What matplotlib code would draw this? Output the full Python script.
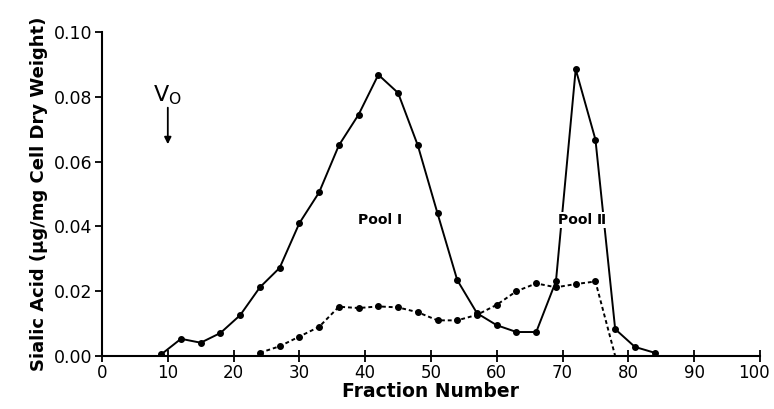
import matplotlib
matplotlib.use("Agg")
import matplotlib.pyplot as plt
from matplotlib.transforms import ScaledTranslation

# fractions sampled every 3 tubes
pool_fractions = [9, 12, 15, 18, 21, 24, 27, 30, 33, 36, 39, 42, 45, 48, 51,
                  54, 57, 60, 63, 66, 69, 72, 75, 78, 81, 84]
pool_sialic = [0.0005, 0.0053, 0.0041, 0.0071, 0.0126, 0.0212, 0.0272, 0.0410,
               0.0505, 0.0650, 0.0745, 0.0868, 0.0812, 0.0650, 0.0440, 0.0234,
               0.0132, 0.0095, 0.0074, 0.0074, 0.0231, 0.0885, 0.0668, 0.0083,
               0.0028, 0.0010]

dash_fractions = [24, 27, 30, 33, 36, 39, 42, 45, 48, 51, 54, 57, 60, 63,
                  66, 69, 72, 75]
dash_sialic = [0.0010, 0.0030, 0.0060, 0.0090, 0.0152, 0.0148, 0.0153, 0.0150,
               0.0135, 0.0110, 0.0110, 0.0127, 0.0158, 0.0200, 0.0224, 0.0212,
               0.0222, 0.0230]
# dashed trace runs down to the baseline after the last point
dash_end = [78, 0.0]

plt.rcParams["font.family"] = ["DejaVu Sans"]

fig = plt.figure(figsize=(7.74, 4.09), dpi=100)
ax = fig.add_axes([0.1318, 0.1296, 0.850, 0.7922])

ax.plot(pool_fractions, pool_sialic, color="black", lw=1.4, marker="o",
        markersize=4, zorder=3)
ax.plot(dash_fractions + [dash_end[0]], dash_sialic + [dash_end[1]],
        color="black", lw=1.4, ls=(0, (2, 1.5)), zorder=2)
ax.plot(dash_fractions, dash_sialic, color="black", lw=0, marker="o",
        markersize=4, zorder=3)

ax.set_xlim(0, 100)
ax.set_ylim(0, 0.10)
ax.set_xticks(range(0, 101, 10))
ax.set_yticks([0.0, 0.02, 0.04, 0.06, 0.08, 0.10])
ax.set_yticklabels(["0.00", "0.02", "0.04", "0.06", "0.08", "0.10"])

for s in ["top", "right"]:
    ax.spines[s].set_visible(False)
for s in ["left", "bottom"]:
    ax.spines[s].set_linewidth(1.5)

ax.tick_params(axis="x", direction="inout", length=8, width=1.3,
               labelsize=12, pad=2)
ax.tick_params(axis="y", direction="out", length=5, width=1.3,
               labelsize=12.5, pad=2)

# nudge the "100" label in so it stays inside the figure
last = ax.get_xticklabels()[-1]
last.set_transform(last.get_transform() +
                   ScaledTranslation(-4 / 72, 0, fig.dpi_scale_trans))

ax.set_xlabel("Fraction Number", fontsize=13.5, fontweight="bold", labelpad=0)
ax.set_ylabel("Sialic Acid (μg/mg Cell Dry Weight)", fontsize=13,
              fontweight="bold", labelpad=4)

ax.text(42.2, 0.042, "Pool Ⅰ", fontsize=10, fontweight="bold",
        ha="center", va="center", zorder=5,
        bbox=dict(facecolor="white", edgecolor="none", pad=1))
ax.text(72.9, 0.042, "Pool Ⅱ", fontsize=10, fontweight="bold",
        ha="center", va="center", zorder=5,
        bbox=dict(facecolor="white", edgecolor="none", pad=1))

ax.text(10.0, 0.0805, "V$_\\mathregular{O}$", fontsize=16, ha="center",
        va="center")
ax.annotate("", xy=(10.0, 0.0645), xytext=(10.0, 0.0775),
            arrowprops=dict(arrowstyle="-|>", color="black", lw=1.3,
                            mutation_scale=10))

fig.savefig("out.png", dpi=100)
